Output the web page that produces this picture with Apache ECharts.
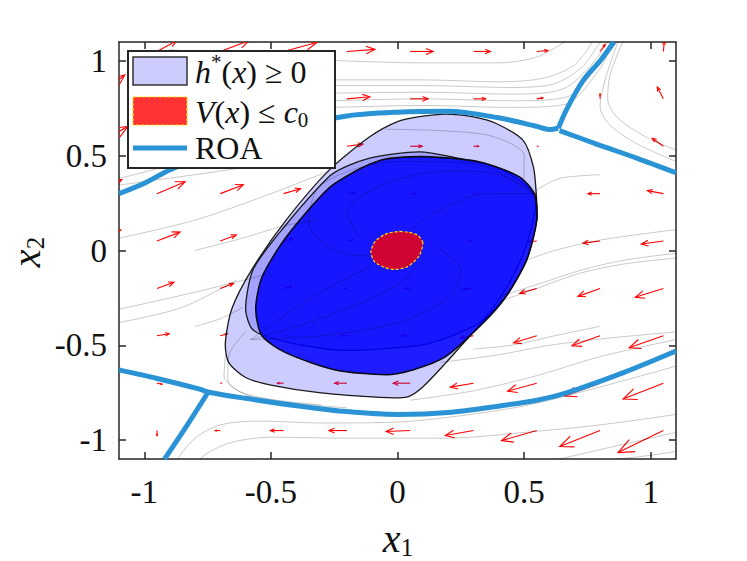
<!DOCTYPE html>
<html>
<head>
    <meta charset="UTF-8">
    <title>ROA estimate</title>
    <script src="https://cdn.jsdelivr.net/npm/echarts@6.0.0/dist/echarts.min.js"></script>
</head>
<body style="margin:0;background:#fff">
<div id="chart" style="width:747px;height:561px"></div>
<script>
    // axis ticks
    var tickValues = [-1, -0.5, 0, 0.5, 1];

    // quiver grid (tails) and displayed components, rows from top to bottom
    var quiverX = [-1.2, -0.95, -0.7, -0.45, -0.2, 0.05, 0.3, 0.55, 0.8, 1.05];
    var quiverY = [1.05, 0.8, 0.55, 0.3, 0.05, -0.2, -0.45, -0.7, -0.95];
    var quiverU = [
        [0, .079, .115, .131, .111, .091, .067, .044, .020, .004],
        [.123, .119, .119, .111, .091, .071, .048, .024, 0, -.024],
        [.135, .119, .103, .087, .063, .048, .020, .004, -.020, -.044],
        [.111, .111, .091, .067, .032, .024, .008, -.016, -.048, -.063],
        [.107, .091, .063, .036, .024, .004, -.020, -.036, -.067, -.087],
        [0, .067, .052, .032, -.008, -.024, -.040, -.067, -.087, -.111],
        [0, .048, .028, .008, -.020, -.032, -.052, -.091, -.111, -.135],
        [0, .020, .004, -.024, -.048, -.067, -.091, -.115, -.139, -.159],
        [0, 0, -.020, -.052, -.071, -.095, -.111, -.139, -.159, -.179]
    ];
    var quiverV = [
        [0, .058, .058, .047, .011, 0, 0, .005, .037, .053],
        [.126, .074, .053, .032, .011, 0, 0, .005, .026, .063],
        [.105, .063, .042, .026, .011, 0, 0, 0, .005, .042],
        [.074, .063, .047, .026, .005, 0, 0, 0, 0, .016],
        [.058, .047, .032, .011, .005, 0, 0, -.005, -.011, -.016],
        [0, .032, .026, .011, 0, 0, -.005, -.026, -.042, -.047],
        [0, .011, .011, 0, 0, 0, -.011, -.037, -.053, -.063],
        [0, -.005, 0, 0, 0, 0, -.021, -.042, -.068, -.084],
        [0, -.026, 0, 0, 0, -.005, -.026, -.053, -.084, -.116]
    ];

    // region boundaries
    var hOuter = [[-0.111, 0.599], [0.0, 0.68], [0.087, 0.706], [0.19, 0.72], [0.30, 0.705], [0.39, 0.67],
        [0.497, 0.58], [0.537, 0.44], [0.548, 0.30], [0.55, 0.16], [0.51, -0.05], [0.43, -0.24], [0.34, -0.37],
        [0.19, -0.594], [0.10, -0.72], [0.04, -0.772], [-0.07, -0.775], [-0.31, -0.75], [-0.50, -0.71],
        [-0.60, -0.67], [-0.667, -0.59], [-0.68, -0.49], [-0.655, -0.31], [-0.575, -0.10], [-0.44, 0.16], [-0.27, 0.424]];
    var hMiddle = [[0.087, 0.52], [0.19, 0.50], [0.39, 0.44], [0.51, 0.34], [0.545, 0.28],
        [0.535, 0.15], [0.49, -0.04], [0.42, -0.22], [0.325, -0.38], [0.127, -0.49], [-0.07, -0.52],
        [-0.245, -0.525], [-0.45, -0.48], [-0.57, -0.42], [-0.60, -0.31], [-0.57, -0.10], [-0.45, 0.12],
        [-0.27, 0.39], [-0.2, 0.445], [-0.11, 0.487], [-0.02, 0.508]];
    var hInner = [[0.127, 0.494], [0.325, 0.467], [0.48, 0.39], [0.54, 0.30], [0.55, 0.16],
        [0.51, -0.05], [0.43, -0.24], [0.34, -0.38], [0.19, -0.56], [0.06, -0.63], [-0.045, -0.655],
        [-0.245, -0.63], [-0.44, -0.54], [-0.535, -0.45], [-0.56, -0.31], [-0.535, -0.14], [-0.44, 0.07],
        [-0.27, 0.33], [-0.15, 0.43], [-0.07, 0.475], [0.0, 0.49]];
    var vLevel = [[0.10, 0.04], [0.08, 0.08], [0.04, 0.097], [0.0, 0.10], [-0.05, 0.085], [-0.09, 0.045],
        [-0.105, -0.01], [-0.09, -0.06], [-0.05, -0.09], [-0.01, -0.10], [0.04, -0.085], [0.085, -0.03]];

    // region of attraction boundary
    var roaUpper = [[-1.1, 0.30], [-1.0, 0.355], [-0.9, 0.425], [-0.7, 0.53], [-0.45, 0.64], [-0.2, 0.71],
        [0, 0.73], [0.2, 0.735], [0.4, 0.70], [0.55, 0.655], [0.6, 0.638], [0.635, 0.645]];
    var roaTop = [[0.635, 0.645], [0.67, 0.75], [0.735, 0.9], [0.80, 1.0], [0.855, 1.1]];
    var roaRight = [[0.64, 0.632], [0.8, 0.555], [0.95, 0.485], [1.1, 0.41]];
    var roaLower = [[-1.1, -0.63], [-0.95, -0.675], [-0.785, -0.73], [-0.745, -0.748], [-0.6, -0.78],
        [-0.39, -0.82], [-0.2, -0.85], [0, -0.865], [0.2, -0.855], [0.405, -0.82], [0.55, -0.79],
        [0.67, -0.75], [0.9, -0.64], [1.1, -0.53]];
    var roaBottom = [[-0.75, -0.752], [-0.83, -0.92], [-0.92, -1.1]];

    // streamlines
    var streamlines = [
        [[-0.9, 1.06], [-0.5, 1.02], [-0.2, 1.0], [0.1, 0.99], [0.4, 0.99], [0.55, 1.02], [0.66, 1.1]],
        [[-0.25, 0.9], [0.1, 0.9], [0.4, 0.89], [0.58, 0.91], [0.7, 0.98], [0.77, 1.1]],
        [[-0.25, 0.87], [0.1, 0.87], [0.45, 0.86], [0.62, 0.88], [0.73, 0.97], [0.8, 1.1]],
        [[-0.25, 0.83], [0.1, 0.835], [0.45, 0.825], [0.65, 0.85], [0.76, 0.97], [0.83, 1.1]],
        [[-0.25, 0.79], [0.1, 0.8], [0.45, 0.79], [0.67, 0.81], [0.78, 0.96], [0.84, 1.1]],
        [[-0.25, 0.755], [0.1, 0.765], [0.45, 0.755], [0.66, 0.77], [0.8, 0.96], [0.85, 1.1]],
        [[0.87, 1.1], [0.82, 0.9], [0.8, 0.76], [0.84, 0.66], [0.95, 0.56], [1.1, 0.47]],
        [[0.89, 1.1], [0.84, 0.93], [0.83, 0.8], [0.87, 0.7], [0.98, 0.6], [1.1, 0.53]],
        [[0.55, 0.32], [0.64, 0.38], [0.8, 0.40]],
        [[1.1, 0.11], [0.8, 0.055], [0.62, 0.0], [0.51, -0.05]],
        [[1.1, -0.015], [0.9, -0.05], [0.735, -0.10], [0.55, -0.18], [0.41, -0.24]],
        [[1.1, -0.04], [0.9, -0.07], [0.72, -0.12], [0.55, -0.2], [0.4, -0.27]],
        [[0.3, -0.52], [0.45, -0.5], [0.62, -0.45], [0.8, -0.40]],
        [[0.17, -0.59], [0.4, -0.55], [0.6, -0.5], [0.85, -0.46], [1.1, -0.43]],
        [[0.05, -0.79], [0.3, -0.74], [0.55, -0.66], [0.8, -0.56], [1.1, -0.47]],
        [[1.1, -0.61], [0.8, -0.72], [0.5, -0.82], [0.2, -0.88], [0, -0.905], [-0.3, -0.91], [-0.55, -0.9],
            [-0.7, -0.92], [-0.8, -0.99], [-0.87, -1.1]],
        [[1.1, -0.865], [0.8, -0.92], [0.5, -0.96], [0.2, -0.99], [-0.2, -0.99], [-0.5, -0.985], [-0.65, -1.01],
            [-0.74, -1.06], [-0.78, -1.1]],
        [[0.64, -1.1], [0.9, -1.02], [1.1, -0.96]],
        [[0.87, -1.1], [1.0, -1.08], [1.1, -1.06]],
        [[-0.2, -0.83], [-0.45, -0.8], [-0.6, -0.76], [-0.67, -0.68], [-0.665, -0.55], [-0.6, -0.43]],
        [[-0.3, -0.815], [-0.5, -0.785], [-0.63, -0.74], [-0.685, -0.66], [-0.68, -0.55]],
        [[-1.1, 0.345], [-0.8, 0.4], [-0.5, 0.455], [-0.24, 0.476]],
        [[-1.1, 0.38], [-0.9, 0.45], [-0.8, 0.5]],
        [[-1.1, 0.065], [-0.8, 0.16], [-0.5, 0.3], [-0.27, 0.42]],
        [[-0.8, 0.0], [-0.6, 0.07], [-0.45, 0.13], [-0.32, 0.16]],
        [[-1.1, -0.31], [-0.8, -0.22], [-0.5, -0.12]],
        [[-1.1, -0.38], [-0.85, -0.3], [-0.635, -0.155]],
        [[-0.8, -0.40], [-0.7, -0.36], [-0.61, -0.30]],
        [[-0.05, 0.64], [0.2, 0.63], [0.38, 0.6], [0.5, 0.5], [0.5, 0.38]],
        [[-0.58, -0.47], [-0.4, -0.3], [-0.25, -0.18], [-0.1, -0.08]],
        [[-0.58, -0.47], [-0.35, -0.38], [-0.15, -0.28], [0.0, -0.18], [0.08, -0.08]],
        [[-0.58, -0.47], [-0.3, -0.45], [0.0, -0.38], [0.2, -0.25], [0.25, -0.1], [0.15, 0.02]],
        [[0.54, 0.30], [0.35, 0.3], [0.15, 0.2], [0.05, 0.11]],
        [[0.54, 0.30], [0.4, 0.4], [0.2, 0.42], [-0.05, 0.35], [-0.2, 0.2], [-0.15, 0.07]],
        [[0.54, 0.30], [0.3, 0.46], [0.0, 0.47], [-0.3, 0.35], [-0.35, 0.15], [-0.25, 0.0], [-0.11, -0.03]]
    ];

    var axisColor = '#262626';
    var roaColor = '#2a93d5';
    var hFill = 'rgba(0,0,255,0.2)';
    var vFill = 'rgba(255,0,0,0.8)';
    var vEdge = '#ffd700';

    function norm(size) { return size + 'px Liberation Serif'; }
    function ital(size) { return 'italic ' + size + 'px Liberation Serif'; }

    var arrows = [];
    quiverY.forEach(function (y, r) {
        quiverX.forEach(function (x, c) {
            if (quiverU[r][c] !== 0 || quiverV[r][c] !== 0) {
                arrows.push([x, y, quiverU[r][c], quiverV[r][c]]);
            }
        });
    });

    function regionSeries(name, pts, fill, stroke, width, dash, z) {
        return {
            type: 'custom', name: name, z: z, clip: true,
            coordinateSystem: 'cartesian2d',
            encode: {x: 0, y: 1},
            data: pts,
            silent: true,
            renderItem: function (params, api) {
                if (params.dataIndex !== 0) return;
                var points = pts.map(function (p) { return api.coord(p); });
                return {
                    type: 'polygon',
                    shape: {points: points, smooth: 0.25},
                    style: {fill: fill, stroke: stroke, lineWidth: width, lineDash: dash}
                };
            }
        };
    }

    function lineSeries(name, pts, color, width, z) {
        return {
            type: 'line', name: name, z: z, data: pts,
            showSymbol: false, symbol: 'none', smooth: 0.3, silent: true,
            lineStyle: {color: color, width: width},
            itemStyle: {color: color}
        };
    }

    var series = [];

    series.push({
        type: 'custom', name: 'quiver', z: 1, clip: true,
        coordinateSystem: 'cartesian2d',
        encode: {x: 0, y: 1},
        data: arrows,
        silent: true,
        renderItem: function (params, api) {
            var p0 = api.coord([api.value(0), api.value(1)]);
            var p1 = api.coord([api.value(0) + api.value(2), api.value(1) + api.value(3)]);
            var dx = p1[0] - p0[0], dy = p1[1] - p0[1];
            var len = Math.sqrt(dx * dx + dy * dy);
            var a = Math.atan2(dy, dx), h = len * 0.34, s = 0.4;
            var h1 = [p1[0] - h * Math.cos(a - s), p1[1] - h * Math.sin(a - s)];
            var h2 = [p1[0] - h * Math.cos(a + s), p1[1] - h * Math.sin(a + s)];
            var st = {stroke: '#ff0000', lineWidth: 1.1, fill: 'none'};
            return {
                type: 'group',
                children: [
                    {type: 'polyline', shape: {points: [p0, p1]}, style: st},
                    {type: 'polyline', shape: {points: [h1, p1, h2]}, style: st}
                ]
            };
        }
    });

    series.push(regionSeries('h*(x) ≥ 0', hOuter, hFill, '#1a1a1a', 1.3, null, 2));
    series.push(regionSeries('h1', hMiddle, hFill, '#1a1a1a', 1.3, null, 2));
    series.push(regionSeries('h2', hInner, 'rgba(0,0,255,0.86)', '#0a0a1a', 1.6, null, 2));
    series.push(regionSeries('V(x) ≤ c0', vLevel, vFill, vEdge, 1.2, [3, 2], 3));

    streamlines.forEach(function (pts) {
        series.push(lineSeries('stream', pts, 'rgba(0,0,0,0.27)', 0.8, 4));
    });

    [roaUpper, roaTop, roaRight, roaLower, roaBottom].forEach(function (pts) {
        series.push(lineSeries('ROA', pts, roaColor, 5, 5));
    });

    function boxAxis(position) {
        return {
            type: 'value', min: -1.1, max: 1.1, position: position,
            axisLine: {onZero: false, lineStyle: {color: axisColor, width: 1.5}},
            axisTick: {inside: true, length: 7, customValues: tickValues, lineStyle: {color: axisColor, width: 1.5}},
            axisLabel: {show: false},
            splitLine: {show: false}
        };
    }

    // svg renderer so the browser picks the serif face itself
    var chart = echarts.init(document.getElementById('chart'), null, {renderer: 'svg'});

    chart.setOption({
        backgroundColor: '#fff',
        animation: false,
        grid: {left: 119, right: 71, top: 42, bottom: 102},
        xAxis: [boxAxis('bottom'), boxAxis('top')],
        yAxis: [boxAxis('left'), boxAxis('right')],
        series: series
    });

    var measure = document.createElement('canvas').getContext('2d');

    function textRun(pieces, x, y, align) {
        var widths = pieces.map(function (p) {
            measure.font = p[1];
            return measure.measureText(p[0]).width;
        });
        var total = widths.reduce(function (a, b) { return a + b; }, 0);
        var cx = align === 'center' ? x - total / 2 : (align === 'right' ? x - total : x);
        return pieces.map(function (p, i) {
            var el = {
                type: 'text', x: cx, y: y + (p[2] || 0), z: 100, silent: true,
                style: {text: p[0], font: p[1], fill: '#111', align: 'left', verticalAlign: 'middle'}
            };
            cx += widths[i];
            return el;
        });
    }

    function buildText() {
        var els = [];
        tickValues.forEach(function (v) {
            var px = chart.convertToPixel({xAxisIndex: 0}, v);
            els = els.concat(textRun([[String(v), norm(33)]], px, 492, 'center'));
            var py = chart.convertToPixel({yAxisIndex: 0}, v);
            els = els.concat(textRun([[String(v), norm(33)]], 107, py, 'right'));
        });

        // axis names
        els = els.concat(textRun([['x', ital(40)], ['1', norm(25), 9]], 398, 538, 'center'));
        els.push({
            type: 'group', x: 26, y: 252, rotation: Math.PI / 2, z: 100,
            children: textRun([['x', ital(40)], ['2', norm(25), 9]], 0, 0, 'center')
        });

        // legend
        els.push({type: 'rect', z: 99, silent: true, shape: {x: 128, y: 51, width: 207, height: 117},
            style: {fill: '#fff', stroke: axisColor, lineWidth: 2}});
        els.push({type: 'rect', z: 100, silent: true, shape: {x: 133, y: 57, width: 54, height: 28},
            style: {fill: hFill, stroke: '#333', lineWidth: 1.5}});
        els.push({type: 'rect', z: 100, silent: true, shape: {x: 133, y: 97, width: 54, height: 28},
            style: {fill: vFill, stroke: vEdge, lineWidth: 1.2, lineDash: [3, 2]}});
        els.push({type: 'rect', z: 100, silent: true, shape: {x: 133, y: 145.5, width: 54, height: 5},
            style: {fill: roaColor}});
        els = els.concat(textRun([['h', ital(32)], ['*', norm(21), -10], ['(', norm(32)], ['x', ital(32)],
            [')', norm(32)], [' \u2265 0', norm(32)]], 195, 72, 'left'));
        els = els.concat(textRun([['V', ital(32)], ['(', norm(32)], ['x', ital(32)], [') \u2264 ', norm(32)],
            ['c', ital(32)], ['0', norm(21), 8]], 195, 112, 'left'));
        els = els.concat(textRun([['ROA', norm(32)]], 195, 148, 'left'));

        chart.setOption({graphic: els}, {replaceMerge: ['graphic']});
    }

    buildText();
    if (document.fonts && document.fonts.ready) {
        document.fonts.ready.then(buildText);
    }
</script>
</body>
</html>
